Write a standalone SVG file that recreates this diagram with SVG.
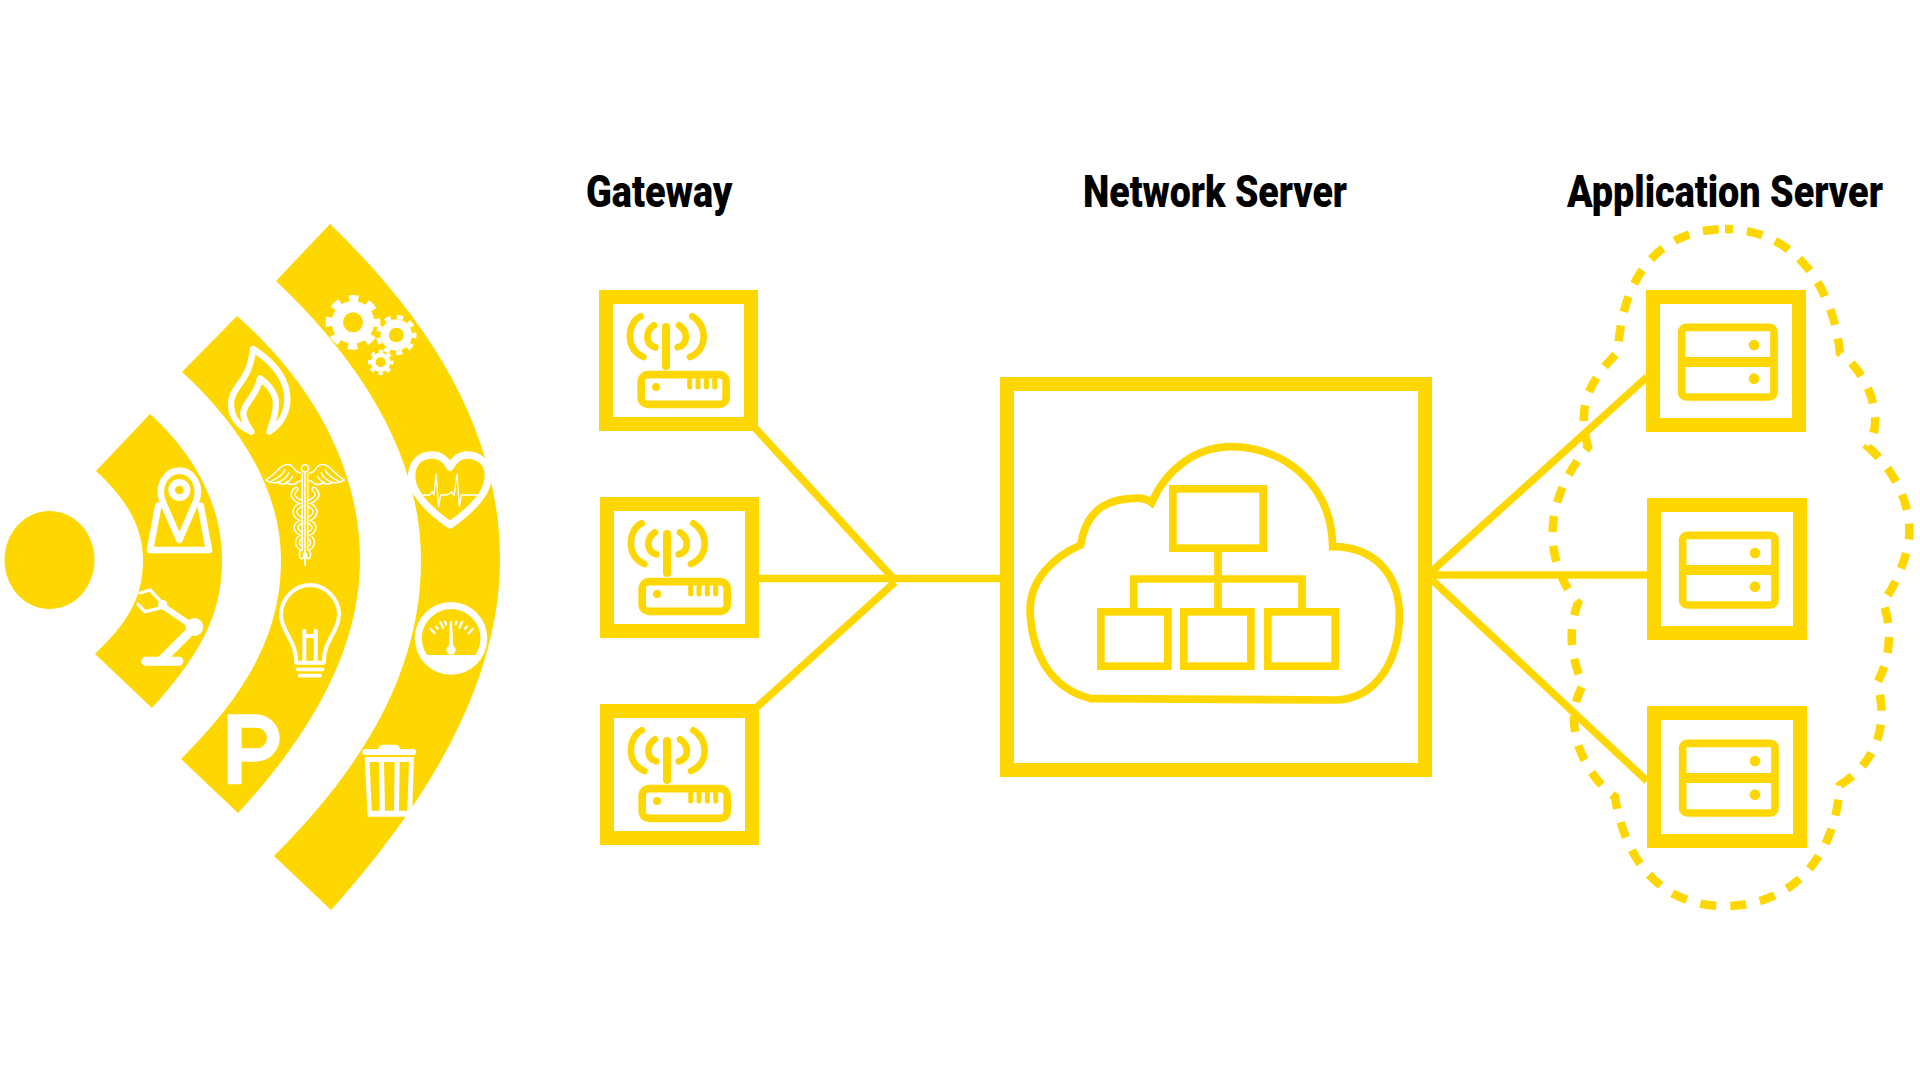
<svg xmlns="http://www.w3.org/2000/svg" xmlns:xlink="http://www.w3.org/1999/xlink" width="1920" height="1080" viewBox="0 0 1920 1080">
<style>
.title{font-family:"Roboto","Liberation Sans",sans-serif;font-weight:900;font-size:45px;fill:#000}
.y{fill:#FFD700}
.w{fill:#fff}
.frame{fill:#fff;stroke:#FFD700;stroke-width:14}
.ol{fill:none;stroke:#FFD700;stroke-linecap:round;stroke-linejoin:round}
.bar{fill:none;stroke:#FFD700;stroke-width:30}
.sq{fill:none;stroke:#FFD700;stroke-width:23}
.wl{fill:none;stroke:#fff;stroke-linecap:round;stroke-linejoin:round}
.link{stroke:#FFD700;stroke-width:7.5;fill:none}
</style>
<defs>
<g id="router-icon">
<rect class="frame" x="7" y="7" width="145" height="127"/>
<g transform="scale(.33333) translate(-87,-421)">
<path class="ol" stroke-width="20" d="M212 500C170 520 165 600 220 622M367 500C412 525 415 600 360 622"/>
<path class="ol" stroke-width="20" d="M252 527C225 545 225 585 256 593M327 527C355 545 355 585 323 593"/>
<path class="ol" stroke-width="24" d="M288 532V649"/>
<rect class="ol" stroke-width="23" x="213.500" y="675" width="255" height="89" rx="20"/>
<circle class="y" cx="258" cy="712" r="12"/>
<path class="ol" stroke-width="15" d="M359 690V712M384 690V712M409 690V712M434 690V712"/>
</g>
</g>
<g id="server-icon">
<rect class="frame" x="7" y="7" width="146" height="128"/>
<g transform="scale(.33333) translate(-378,-240)">
<rect class="ol" stroke-width="23" x="485" y="352" width="277" height="209" rx="14"/>
<path class="bar" d="M480 456H767"/>
<circle class="y" cx="702" cy="405" r="16"/>
<circle class="y" cx="702" cy="506" r="16"/>
</g>
</g>
<path id="wing" d="M152 68C140 72 137 60 128 50C118 40 103 42 92 52C78 66 62 82 47 90C58 97 72 100 82 97C92 103 104 103 112 99C122 104 134 106 143 96C146 92 150 94 152 92M104 60C100 72 84 84 66 92M116 68C112 80 100 90 86 96M128 78C124 88 116 94 106 98"/>
</defs>

<g id="signal-dot"><ellipse class="y" cx="49.500" cy="560" rx="45" ry="49"/></g>
<g id="arc-1">
<path class="y" d="M150 414C195 455 222 505 222 560C222 615 200 655 152 708L95 654C125 625 143 600 143 560C143 525 125 498 96 471Z"/>
<g id="icon-pin" transform="translate(130,455) scale(.33333)">
<path class="wl" stroke-width="20" d="M85 152L60 285H237L212 152"/>
<path class="wl" stroke-width="20" d="M148 255L98 140C80 90 110 47 148 47C186 47 216 90 198 140Z"/>
<circle class="wl" stroke-width="20" cx="148" cy="105" r="23"/>
</g>
<g id="icon-arm" transform="translate(0,540) scale(.33333)">
<rect class="w" x="424" y="350" width="126" height="27" rx="13"/>
<path class="w" d="M475 351L556 270L576 288L513 351Z"/>
<path class="wl" stroke-width="18" d="M494 202L562 248"/>
<circle class="w" cx="583" cy="261" r="27"/>
<circle class="w" cx="488" cy="194" r="14"/>
<path class="wl" stroke-width="10" d="M420 159L450 150L488 190M414 193L435 215L488 202"/>
</g>
</g>
<g id="arc-2">
<path class="y" d="M237 316C315 385 360 470 360 560C360 650 310 735 238 813L181 759C240 700 281 640 281 560C281 490 240 425 182 372Z"/>
<g id="icon-flame" transform="translate(0,200) scale(.33333)">
<path class="wl" stroke-width="19" d="M754 695C715 680 693 650 693 612C693 560 750 545 759 447C810 480 862 530 862 598C862 640 840 675 808 695C825 650 832 620 826 595C820 572 800 550 780 535C770 590 730 610 730 640C730 665 745 680 754 695Z"/>
</g>
<g id="icon-caduceus" transform="translate(250,450) scale(.33333)">
<g class="wl" stroke-width="4.500">
<use xlink:href="#wing" href="#wing"/>
<use xlink:href="#wing" href="#wing" transform="translate(330,0) scale(-1,1)"/>
</g>
<path class="wl" stroke-width="16" d="M138 118C122 132 126 150 165 160C205 172 205 200 165 210C128 222 130 245 165 255C195 265 195 290 165 300C155 305 152 312 155 320M192 118C208 132 204 150 165 160C125 172 125 200 165 210C202 222 200 245 165 255C135 265 135 290 165 300C175 305 178 312 175 320"/>
<path fill="none" stroke="#FFD700" stroke-width="7" stroke-linecap="round" d="M138 118C122 132 126 150 165 160C205 172 205 200 165 210C128 222 130 245 165 255C195 265 195 290 165 300C155 305 152 312 155 320M192 118C208 132 204 150 165 160C125 172 125 200 165 210C202 222 200 245 165 255C135 265 135 290 165 300C175 305 178 312 175 320"/>
<path class="wl" stroke-width="5" d="M165 65V345M157 72V300M173 72V300"/>
<path fill="#FFD700" d="M160 72H170V300H160Z"/>
<path class="wl" stroke-width="4.500" d="M165 72V345"/>
<circle cx="165" cy="55" r="11" fill="#FFD700" stroke="#fff" stroke-width="4.500"/>
</g>
<g id="icon-bulb" transform="translate(0,540) scale(.33333)">
<path class="wl" stroke-width="12" d="M889 368C889 300 843 275 843 225C843 175 885 135 930 135C975 135 1017 175 1017 225C1017 275 971 300 971 368Z"/>
<path class="wl" stroke-width="12" d="M913 272V368M947 272V368M913 288H947"/>
<path class="wl" stroke-width="11" d="M893 388H968M899 407H961"/>
</g>
<g id="icon-parking" transform="translate(0,540) scale(.33333)">
<path class="w" fill-rule="evenodd" d="M683 523H768A71 71 0 0 1 768 665H725V733H683ZM725 563V625H770A31 31 0 0 0 770 563Z"/>
</g>
</g>
<g id="arc-3">
<path class="y" d="M330 224C440 330 500 440 500 560C500 680 430 800 331 910L274 856C365 765 421 670 421 560C421 460 365 365 276 281Z"/>
<g id="icon-gears" transform="translate(0,200) scale(.33333)">
<circle class="w" cx="1059" cy="367" r="64"/>
<circle cx="1059" cy="367" r="72" fill="none" stroke="#fff" stroke-width="20" stroke-dasharray="28.270 28.270" stroke-dashoffset="14.130"/>
<circle class="y" cx="1059" cy="367" r="30"/>
<circle class="w" cx="1189" cy="405" r="47"/>
<circle cx="1189" cy="405" r="54" fill="none" stroke="#fff" stroke-width="13" stroke-dasharray="18.850 18.850" stroke-dashoffset="9.400"/>
<circle class="y" cx="1189" cy="405" r="22"/>
<circle class="w" cx="1142" cy="487" r="29"/>
<circle cx="1142" cy="487" r="33" fill="none" stroke="#fff" stroke-width="10" stroke-dasharray="12.960 12.960" stroke-dashoffset="6.500"/>
<circle class="y" cx="1142" cy="487" r="15"/>
</g>
<g id="icon-heart" transform="translate(0,200) scale(.33333)">
<path class="wl" stroke-width="22" d="M1350 802C1335 775 1320 765 1295 765C1260 765 1235 790 1235 828C1235 885 1300 940 1350 975C1400 940 1465 885 1465 828C1465 790 1440 765 1400 765C1380 765 1365 775 1350 802Z"/>
<path class="wl" stroke-width="4" d="M1270 885H1290L1296 875L1302 885L1308 822L1316 920L1322 885H1335L1348 882L1355 875L1362 888L1371 822L1378 920L1384 885H1430"/>
</g>
<g id="icon-gauge" transform="translate(0,540) scale(.33333)">
<circle class="w" cx="1353" cy="295" r="109"/>
<path class="y" d="M1281 345A88 88 0 1 1 1426 345Z"/>
<path class="w" d="M1350 243H1356L1360 325H1346Z"/>
<circle class="w" cx="1353" cy="330" r="14"/>
<path class="wl" stroke-width="7" d="M1292 267L1304 280M1308 260L1313 266M1321 246L1329 263M1335 245L1338 253M1369 245L1367 253M1386 246L1378 263M1401 260L1395 266M1418 267L1406 280"/>
</g>
<g id="icon-trash" transform="translate(0,540) scale(.33333)">
<rect class="w" x="1087" y="627" width="161" height="18" rx="9"/>
<path class="w" d="M1133 629Q1138 614 1150 614H1185Q1198 614 1201 629Z"/>
<path class="w" d="M1094 651H1242L1236 830H1103Z"/>
<path class="y" d="M1109 666H1137L1139 812H1115ZM1152 666H1184L1182 812H1155ZM1199 666H1227L1222 812H1197Z"/>
</g>
</g>

<text class="title" transform="translate(586,207) scale(.8,1)" x="0" y="0" textLength="183" lengthAdjust="spacingAndGlyphs">Gateway</text>
<text class="title" transform="translate(1083,207) scale(.8,1)" x="0" y="0" textLength="330" lengthAdjust="spacingAndGlyphs">Network Server</text>
<text class="title" transform="translate(1567,207) scale(.8,1)" x="0" y="0" textLength="395" lengthAdjust="spacingAndGlyphs">Application Server</text>

<g id="connectors">
<path class="link" d="M755 428L892 577"/>
<path class="link" d="M757 707L895 582"/>
<path class="link" d="M759 578.500H1000"/>
<path class="link" d="M1647 377L1432 571"/>
<path class="link" d="M1647 575H1432"/>
<path class="link" d="M1647 781L1432 580"/>
</g>

<g id="gateway-1"><use xlink:href="#router-icon" href="#router-icon" transform="translate(599,290)"/></g>
<g id="gateway-2"><use xlink:href="#router-icon" href="#router-icon" transform="translate(600,497)"/></g>
<g id="gateway-3"><use xlink:href="#router-icon" href="#router-icon" transform="translate(600,704)"/></g>

<g id="network-server">
<rect class="frame" x="1007" y="384" width="418" height="386"/>
<g transform="translate(990,360) scale(.33333)">
<path class="sq" d="M272 555C285 470 330 418 430 415C455 413 475 420 485 428C530 325 620 260 725 260C880 262 1025 370 1028 560C1150 560 1228 640 1228 765C1228 900 1160 1015 1040 1020L305 1016C190 990 125 890 120 750C120 660 190 590 272 555Z"/>
<rect class="sq" x="548.500" y="386.500" width="271" height="178"/>
<rect class="sq" x="332.500" y="755.500" width="201" height="163"/>
<rect class="sq" x="581.500" y="755.500" width="201" height="163"/>
<rect class="sq" x="833.500" y="755.500" width="202" height="163"/>
<path class="sq" d="M684 576V744M431 744V657H936V744"/>
</g>
</g>

<g id="server-1"><use xlink:href="#server-icon" href="#server-icon" transform="translate(1646,290)"/></g>
<g id="server-2"><use xlink:href="#server-icon" href="#server-icon" transform="translate(1647,498)"/></g>
<g id="server-3"><use xlink:href="#server-icon" href="#server-icon" transform="translate(1647,706)"/></g>

<g id="application-cloud">
<path fill="none" stroke="#FFD700" stroke-width="8.500" stroke-dasharray="16 14" stroke-dashoffset="8" d="M1725 229C1790 229 1832 280 1840 353C1870 375 1885 420 1868 447C1895 470 1915 510 1908 545C1904 565 1893 590 1883 602C1893 630 1890 660 1877 683C1888 720 1880 760 1840 785C1835 860 1790 906 1725 906C1660 906 1625 860 1615 797C1585 775 1560 725 1583 685C1570 655 1568 630 1578 603C1550 570 1535 510 1588 447C1578 410 1585 385 1618 352C1622 270 1665 229 1725 229Z"/>
</g>
</svg>
